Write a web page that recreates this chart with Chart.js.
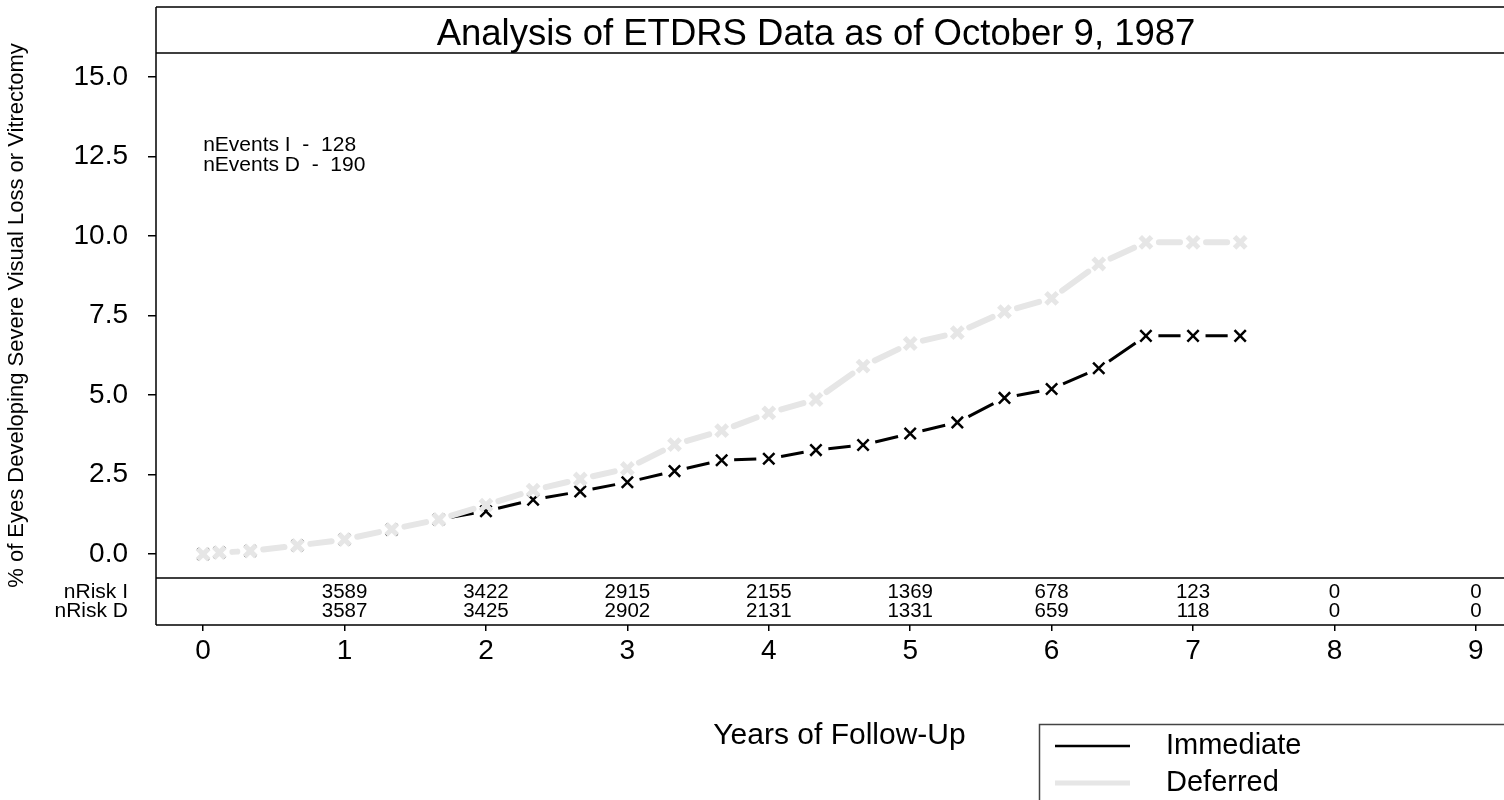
<!DOCTYPE html>
<html>
<head>
<meta charset="utf-8">
<script src="https://cdn.jsdelivr.net/npm/chart.js@4/dist/chart.umd.min.js"></script>
<style>
  html, body { margin: 0; padding: 0; overflow: hidden; background: #fff; }
  #wrap { width: 1632px; height: 800px; }
</style>
</head>
<body>
<div id="wrap"><canvas id="chart" width="1632" height="800"></canvas></div>
<script>
// Follow-up time points (years) and cumulative % of eyes with the event
const years = [0, 0.115, 1/3, 2/3, 1, 4/3, 5/3, 2, 7/3, 8/3, 3, 10/3, 11/3, 4,
               13/3, 14/3, 5, 16/3, 17/3, 6, 19/3, 20/3, 7, 22/3];
const immediate = [0, 0.05, 0.10, 0.27, 0.46, 0.77, 1.09, 1.35, 1.71, 1.97, 2.26, 2.61,
                   2.95, 3.00, 3.27, 3.43, 3.79, 4.14, 4.91, 5.19, 5.84, 6.86, 6.86, 6.86];
const deferred  = [0, 0.05, 0.10, 0.27, 0.46, 0.78, 1.09, 1.54, 2.01, 2.36, 2.69, 3.44,
                   3.88, 4.44, 4.86, 5.91, 6.62, 6.96, 7.62, 8.04, 9.12, 9.80, 9.80, 9.80];

// Axis ticks
const xTicks = [0, 1, 2, 3, 4, 5, 6, 7, 8, 9];
const yTicks = [0, 2.5, 5, 7.5, 10, 12.5, 15];

// Number at risk table
const riskYears = [1, 2, 3, 4, 5, 6, 7, 8, 9];
const nRiskI = [3589, 3422, 2915, 2155, 1369, 678, 123, 0, 0];
const nRiskD = [3587, 3425, 2902, 2131, 1331, 659, 118, 0, 0];
const riskRowLabels = ['nRisk I', 'nRisk D'];
const riskRowPos = [0.7, 0.3];

// Event counts
const eventLabels = ['nEvents I', 'nEvents D'];
const eventCounts = [128, 190];

const FONT = "'Liberation Sans', Arial, Helvetica, sans-serif";
const GRAY = '#e6e6e6';

// Lines between markers are broken off short of each marker
const gappedLines = {
  id: 'gappedLines',
  beforeDatasetDraw(chart, args) {
    const ds = chart.data.datasets[args.index];
    const pts = args.meta.data;
    const gap = ds.markerGap;
    const ctx = chart.ctx;
    ctx.save();
    ctx.strokeStyle = ds.borderColor;
    ctx.lineWidth = ds.borderWidth;
    ctx.lineCap = ds.borderCapStyle;
    ctx.beginPath();
    for (let i = 1; i < pts.length; i++) {
      const a = pts[i - 1], b = pts[i];
      const dx = b.x - a.x, dy = b.y - a.y;
      const len = Math.hypot(dx, dy);
      if (len <= 2 * gap + 1) continue;
      const ux = dx / len, uy = dy / len;
      ctx.moveTo(a.x + ux * gap, a.y + uy * gap);
      ctx.lineTo(b.x - ux * gap, b.y - uy * gap);
    }
    ctx.stroke();
    ctx.restore();
  }
};

// Frame, at-risk table, event counts and legend box
const decorations = {
  id: 'decorations',
  afterDraw(chart) {
    const ctx = chart.ctx;
    const ca = chart.chartArea;
    const xs = chart.scales.x, ys = chart.scales.y, rs = chart.scales.risk;
    const tb = chart.titleBlock;
    ctx.save();
    ctx.strokeStyle = '#000';
    ctx.lineWidth = 1.5;
    ctx.beginPath();
    [tb.top, ys.top, ys.bottom, rs.bottom].forEach(y => {
      ctx.moveTo(ca.left, y);
      ctx.lineTo(ca.right, y);
    });
    ctx.moveTo(ca.left, tb.top);
    ctx.lineTo(ca.left, rs.bottom);
    ctx.stroke();

    // at-risk numbers
    ctx.fillStyle = '#000';
    ctx.font = '20.5px ' + FONT;
    ctx.textAlign = 'center';
    ctx.textBaseline = 'middle';
    [nRiskI, nRiskD].forEach((row, r) => {
      const y = rs.getPixelForValue(riskRowPos[r]);
      row.forEach((n, j) => {
        ctx.fillText(String(n), xs.getPixelForValue(riskYears[j]), y);
      });
    });

    // event counts
    ctx.textAlign = 'left';
    ctx.textBaseline = 'alphabetic';
    ctx.font = '21px ' + FONT;
    eventLabels.forEach((lab, i) => {
      ctx.fillText(lab + '  -  ' + eventCounts[i], xs.getPixelForValue(0),
                   ys.getPixelForValue(12.66) + i * 19.7);
    });

    // legend
    ctx.strokeStyle = '#444';
    ctx.lineWidth = 1.5;
    ctx.strokeRect(1039.5, 724.5, 700, 200);
    ctx.font = '29px ' + FONT;
    ctx.textBaseline = 'middle';
    chart.data.datasets.forEach((ds, i) => {
      const y = 746 + i * 37;
      ctx.strokeStyle = ds.borderColor;
      ctx.lineWidth = ds.legendWidth;
      ctx.lineCap = 'butt';
      ctx.beginPath();
      ctx.moveTo(1055, y);
      ctx.lineTo(1130, y);
      ctx.stroke();
      ctx.fillStyle = '#000';
      ctx.fillText(ds.label, 1166, y);
    });
    ctx.restore();
  }
};

const toPoints = vals => vals.map((v, i) => ({ x: years[i], y: v }));

new Chart(document.getElementById('chart'), {
  type: 'line',
  data: {
    datasets: [
      {
        label: 'Immediate',
        data: toPoints(immediate),
        xAxisID: 'x',
        yAxisID: 'y',
        showLine: false,
        borderColor: '#000',
        borderWidth: 3,
        borderCapStyle: 'butt',
        legendWidth: 2.5,
        markerGap: 12.5,
        pointStyle: 'crossRot',
        pointRadius: 8,
        pointBorderWidth: 2.5,
        pointBorderColor: '#000',
        order: 1
      },
      {
        label: 'Deferred',
        data: toPoints(deferred),
        xAxisID: 'x',
        yAxisID: 'y',
        showLine: false,
        borderColor: GRAY,
        borderWidth: 6,
        borderCapStyle: 'round',
        legendWidth: 5,
        markerGap: 13,
        pointStyle: 'crossRot',
        pointRadius: 8,
        pointBorderWidth: 5,
        pointBorderColor: GRAY,
        order: 0
      }
    ]
  },
  options: {
    responsive: false,
    animation: false,
    events: [],
    layout: { padding: { top: 7, left: 0, right: 0, bottom: 0 } },
    plugins: {
      legend: { display: false },
      tooltip: { enabled: false },
      title: {
        display: true,
        text: 'Analysis of ETDRS Data as of October 9, 1987',
        color: '#000',
        fullSize: true,
        font: { family: FONT, size: 36.5, weight: 'normal', lineHeight: 1 },
        padding: { top: 9.5, bottom: 0 }
      }
    },
    scales: {
      x: {
        type: 'linear',
        position: 'bottom',
        min: -1/3,
        max: 28/3,
        afterBuildTicks: s => { s.ticks = xTicks.map(v => ({ value: v })); },
        afterFit: s => { s.height = 175; },
        border: { display: false },
        grid: { drawOnChartArea: false, drawTicks: true, tickLength: 6, color: '#000', lineWidth: 1.5 },
        ticks: { color: '#000', font: { family: FONT, size: 28 }, padding: 3, maxRotation: 0 },
        title: {
          display: true,
          text: 'Years of Follow-Up',
          color: '#000',
          font: { family: FONT, size: 30 },
          padding: { top: 0, bottom: 46 }
        }
      },
      risk: {
        type: 'linear',
        position: 'left',
        stack: 'left',
        stackWeight: 47,
        min: 0,
        max: 1,
        afterBuildTicks: s => { s.ticks = riskRowPos.map(v => ({ value: v })); },
        afterFit: s => { s.width = 156; },
        border: { display: false },
        grid: { display: false },
        ticks: {
          color: '#000',
          font: { family: FONT, size: 21 },
          padding: 20,
          callback: (v, i) => riskRowLabels[i]
        }
      },
      y: {
        type: 'linear',
        position: 'left',
        stack: 'left',
        stackWeight: 525,
        min: -0.75,
        max: 15.75,
        afterBuildTicks: s => { s.ticks = yTicks.map(v => ({ value: v })); },
        afterFit: s => { s.width = 156; },
        border: { display: false },
        grid: { drawOnChartArea: false, drawTicks: true, tickLength: 8, color: '#000', lineWidth: 1.5 },
        ticks: {
          color: '#000',
          font: { family: FONT, size: 28 },
          padding: 20,
          callback: v => Number(v).toFixed(1)
        },
        title: {
          display: true,
          text: '% of Eyes Developing Severe Visual Loss or Vitrectomy',
          color: '#000',
          font: { family: FONT, size: 22 },
          padding: { top: 4, bottom: 0 }
        }
      },
      // blank strip on the right that the plot region runs under
      edge: {
        type: 'linear',
        position: 'right',
        min: 0,
        max: 1,
        afterFit: s => { s.width = 109; },
        border: { display: false },
        grid: { display: false },
        ticks: { display: false }
      }
    }
  },
  plugins: [gappedLines, decorations]
});
</script>
</body>
</html>
